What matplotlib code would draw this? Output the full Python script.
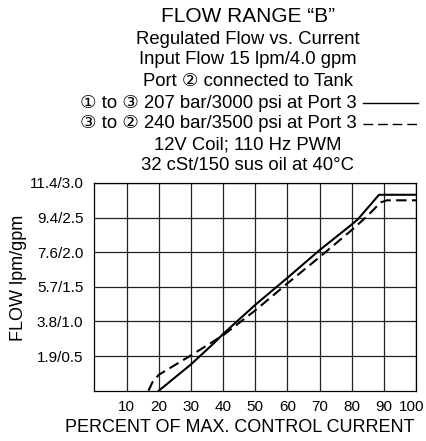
import matplotlib.pyplot as plt
import matplotlib.transforms as mtransforms
from matplotlib.lines import Line2D

plt.rcParams['font.family'] = ['Liberation Sans', 'DejaVu Sans']

# percent of max control current vs flow (gpm)
solid_x = [20, 30, 37, 40, 50, 60, 70, 80, 82, 88.5, 90, 100]
solid_y = [0.0, 0.38, 0.68, 0.82, 1.24, 1.63, 2.03, 2.40, 2.48, 2.83, 2.83, 2.83]
dash_x = [16.8, 18, 20, 30, 40, 50, 60, 70, 80, 85, 89, 91, 100]
dash_y = [0.0, 0.12, 0.23, 0.51, 0.80, 1.16, 1.55, 1.93, 2.32, 2.53, 2.72, 2.75, 2.75]

x_ticks = [10, 20, 30, 40, 50, 60, 70, 80, 90, 100]
y_ticks = [0.5, 1.0, 1.5, 2.0, 2.5, 3.0]
y_labels = ['1.9/0.5', '3.8/1.0', '5.7/1.5', '7.6/2.0', '9.4/2.5', '11.4/3.0']

title_lines = [
    'Regulated Flow vs. Current',
    'Input Flow 15 lpm/4.0 gpm',
    'Port \u2461 connected to Tank',
]
legend_lines = [
    '\u2460 to \u2462 207 bar/3000 psi at Port 3',
    '\u2462 to \u2461 240 bar/3500 psi at Port 3',
]
tail_lines = ['12V Coil; 110 Hz PWM', '32 cSt/150 sus oil at 40\u00b0C']

fig = plt.figure(figsize=(4.27, 4.41), dpi=100)
W, H = 427, 441
ax = fig.add_axes([94.5 / W, 1 - 390.7 / H, (416 - 94.5) / W, (390.7 - 183) / H])

ax.plot(solid_x, solid_y, color='black', lw=1.5, solid_joinstyle='round')
ax.plot(dash_x, dash_y, color='black', lw=1.5, dashes=(5, 2.6))

ax.set_xlim(0, 100)
ax.set_ylim(0, 3.0)
ax.set_xticks(x_ticks)
ax.set_yticks(y_ticks)
ax.set_yticklabels(y_labels)
ax.tick_params(length=0, labelsize=11, colors='black')
ax.tick_params(axis='x', pad=7)
ax.tick_params(axis='y', pad=8)
ax.grid(True, color='#222222', lw=0.9)
for s in ax.spines.values():
    s.set_linewidth(0.9)

# last x label sits a little left, as in the original
lbl = ax.get_xticklabels()[-1]
lbl.set_transform(lbl.get_transform() + mtransforms.ScaledTranslation(-4 / 100, 0, fig.dpi_scale_trans))

ax.set_xlabel('PERCENT OF MAX. CONTROL CURRENT', fontsize=13)
ax.set_ylabel('FLOW lpm/gpm', fontsize=13)
ax.xaxis.label.set_va('center')
ax.yaxis.label.set_va('center')
ax.xaxis.set_label_coords((240 - 94.5) / 321.5, (390.7 - 428) / 207.7)
ax.yaxis.set_label_coords((18.5 - 94.5) / 321.5, (390.7 - 278) / 207.7)

# header text block
fig.text(248 / W, 1 - 17 / H, 'FLOW RANGE \u201cB\u201d', ha='center', va='center', fontsize=15)
for i, t in enumerate(title_lines):
    fig.text(248 / W, 1 - (39 + 21 * i) / H, t, ha='center', va='center', fontsize=13.3)
styles = ['-', (0, (7, 3.5))]
for i, t in enumerate(legend_lines):
    yy = 1 - (103 + 21 * i) / H
    fig.text(357 / W, yy, t, ha='right', va='center', fontsize=13.3)
    fig.add_artist(Line2D([363 / W, 418 / W], [yy, yy], color='black', lw=1.0,
                          linestyle=styles[i], transform=fig.transFigure))
for i, t in enumerate(tail_lines):
    fig.text(248 / W, 1 - (145 + 21 * i) / H, t, ha='center', va='center', fontsize=13.3)

fig.savefig('out.png', dpi=100)
